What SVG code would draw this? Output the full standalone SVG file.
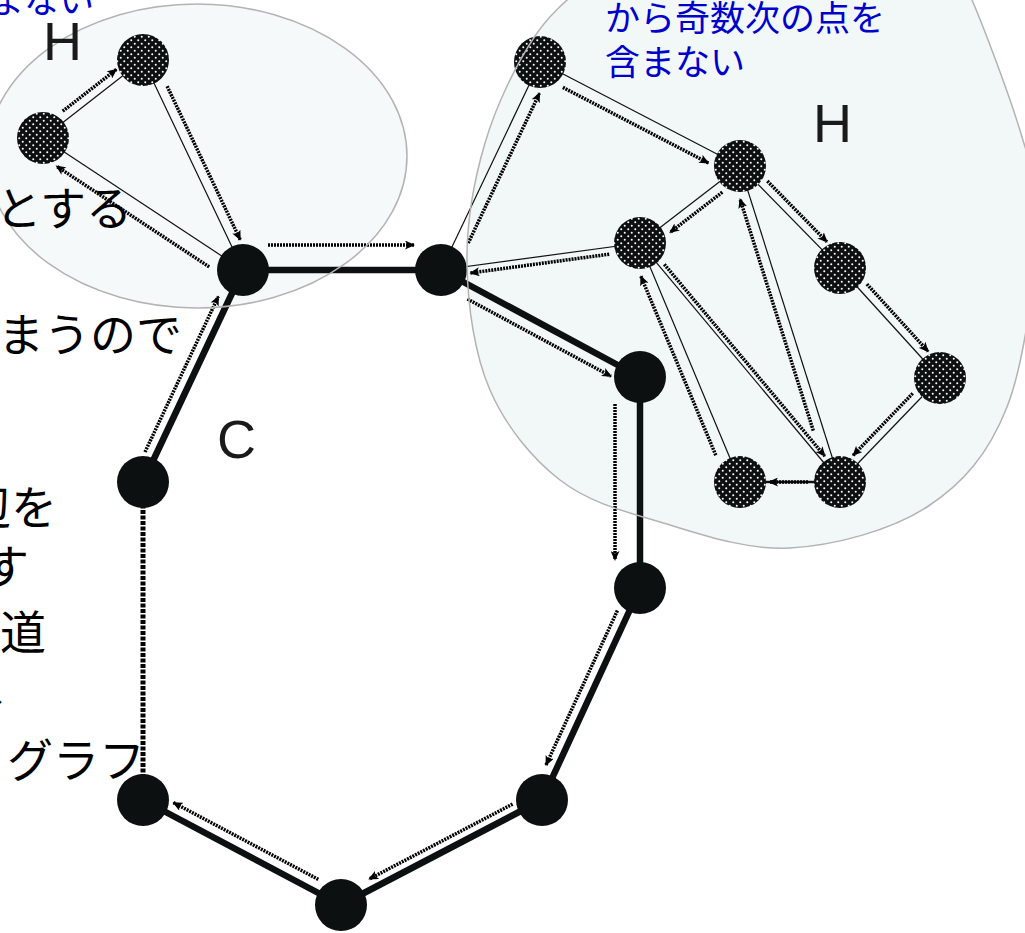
<svg xmlns="http://www.w3.org/2000/svg" width="1025" height="933" viewBox="0 0 1025 933">
<defs>
<pattern id="dots" patternUnits="userSpaceOnUse" width="7" height="7">
<rect width="7" height="7" fill="#0d1010"/>
<circle cx="1.75" cy="1.75" r="1" fill="#ffffff"/>
<circle cx="5.25" cy="5.25" r="1" fill="#ffffff"/>
</pattern>
<marker id="ah" markerUnits="userSpaceOnUse" markerWidth="11" markerHeight="9" refX="9" refY="4.5" orient="auto">
<path d="M0,0 L10,4.5 L0,9 L2.5,4.5 Z" fill="#000"/>
</marker>
<style>
.thin{stroke:#111;stroke-width:1.2;fill:none}
.thick{stroke:#0d1010;stroke-width:6.5;fill:none}
.dash{stroke:#000;stroke-width:5;stroke-dasharray:4 1.5;fill:none}
.tour{stroke:#000;stroke-width:3.5;stroke-dasharray:2 1;fill:none;marker-end:url(#ah)}
.cnode{fill:#0d1010}
.hnode{fill:url(#dots)}
.rfill{fill:#f2f7f7;stroke:none}
.lfill{fill:#f6f9fa;stroke:none}
.outline{fill:none;stroke:#b3b3b3;stroke-width:1.5}
.jp{font-family:"Noto Sans CJK JP","Noto Sans",sans-serif}
.blk{fill:#000;font-size:46px}
.blue{fill:#0000cc;font-size:35px}
.lat{font-family:"Liberation Sans",Arial,sans-serif;fill:#1a1a1a;font-size:54px}
</style>
</defs>
<rect width="1025" height="933" fill="#ffffff"/>
<g id="regions">
<ellipse class="lfill" cx="197" cy="156" rx="210" ry="152"/>
<path id="rightRegionFill" class="rfill" d="M600,-30 C578.3,-8 554.2,7.2 535,36 C515.8,64.8 496.3,104.8 485,143 C473.7,181.2 466.2,223.8 467,265 C467.8,306.2 474.5,354.2 490,390 C505.5,425.8 531.7,458 560,480 C588.3,502 621.7,510.7 660,522 C698.3,533.3 745.5,550.5 790,548 C834.5,545.5 890.8,530.5 927,507 C963.2,483.5 988.5,454 1007,407 C1025.5,360 1035.5,270 1038,225 C1040.5,180 1033,174.5 1022,137 C1011,99.5 984,27.8 972,0 C960,-27.8 957.3,-20 950,-30 L600,-30 Z"/>
</g>
<g id="connectors">
<line class="thin" x1="43" y1="138" x2="143" y2="60"/>
<line class="thin" x1="143" y1="60" x2="243" y2="270"/>
<line class="thin" x1="43" y1="138" x2="243" y2="270"/>
<line class="thin" x1="441" y1="270" x2="540" y2="62"/>
<line class="thin" x1="540" y1="62" x2="740" y2="166"/>
<line class="thin" x1="740" y1="166" x2="640" y2="243"/>
<line class="thin" x1="441" y1="270" x2="640" y2="243"/>
<line class="thin" x1="740" y1="166" x2="840" y2="268"/>
<line class="thin" x1="840" y1="268" x2="940" y2="378"/>
<line class="thin" x1="940" y1="378" x2="840" y2="482"/>
<line class="thin" x1="740" y1="482" x2="840" y2="482" style="stroke-width:2.5"/>
<line class="thin" x1="640" y1="243" x2="740" y2="482"/>
<line class="thin" x1="640" y1="243" x2="840" y2="482"/>
<line class="thin" x1="740" y1="166" x2="840" y2="482"/>
<line class="thick" x1="243" y1="270" x2="441" y2="270"/>
<line class="thick" x1="441" y1="270" x2="640" y2="377"/>
<line class="thick" x1="640" y1="377" x2="640" y2="588"/>
<line class="thick" x1="640" y1="588" x2="542" y2="800"/>
<line class="thick" x1="542" y1="800" x2="341" y2="905"/>
<line class="thick" x1="341" y1="905" x2="143" y2="800"/>
<line class="dash" x1="143" y1="800" x2="143" y2="482"/>
<line class="thick" x1="143" y1="482" x2="243" y2="270"/>
<line class="tour" x1="268" y1="245" x2="414" y2="245"/>
<line class="tour" x1="467.4" y1="299" x2="611" y2="376.3"/>
<line class="tour" x1="615" y1="404" x2="615" y2="560"/>
<line class="tour" x1="617.4" y1="610.6" x2="546" y2="765"/>
<line class="tour" x1="512.6" y1="804.1" x2="369.1" y2="879.1"/>
<line class="tour" x1="318.3" y1="879.4" x2="173.4" y2="802.6"/>
<line class="tour" x1="145" y1="452" x2="218.4" y2="296.4"/>
<line class="tour" x1="209.2" y1="266.9" x2="56.4" y2="166.1"/>
<line class="tour" x1="62.7" y1="111.2" x2="116.4" y2="69.4"/>
<line class="tour" x1="167.1" y1="86.2" x2="240.2" y2="239.7"/>
<line class="tour" x1="468.2" y1="243.1" x2="539.5" y2="93.2"/>
<line class="tour" x1="562.9" y1="87.4" x2="708.4" y2="163"/>
<line class="tour" x1="767.4" y1="181.1" x2="826.9" y2="241.8"/>
<line class="tour" x1="866.9" y1="284.1" x2="928.1" y2="351.4"/>
<line class="tour" x1="912.7" y1="393.4" x2="853.1" y2="455.4"/>
<line class="tour" x1="808" y1="482" x2="769" y2="482"/>
<line class="tour" x1="715.8" y1="455.2" x2="640.9" y2="276.3"/>
<line class="tour" x1="664.3" y1="264.3" x2="824.8" y2="456.1"/>
<line class="tour" x1="813.3" y1="430.6" x2="740" y2="199"/>
<line class="tour" x1="722.3" y1="192.2" x2="670" y2="232.5"/>
<line class="tour" x1="609.2" y1="254.2" x2="470.4" y2="273"/>
</g>
<g id="node-A"><circle class="cnode" cx="243" cy="270" r="26"/></g>
<g id="node-B"><circle class="cnode" cx="441" cy="270" r="26"/></g>
<g id="node-D"><circle class="cnode" cx="640" cy="377" r="26"/></g>
<g id="node-E"><circle class="cnode" cx="640" cy="588" r="26"/></g>
<g id="node-F"><circle class="cnode" cx="542" cy="800" r="26"/></g>
<g id="node-G"><circle class="cnode" cx="341" cy="905" r="26"/></g>
<g id="node-Hn"><circle class="cnode" cx="143" cy="800" r="26"/></g>
<g id="node-I"><circle class="cnode" cx="143" cy="482" r="26"/></g>
<g id="node-L1"><circle class="hnode" cx="143" cy="60" r="26"/></g>
<g id="node-L2"><circle class="hnode" cx="43" cy="138" r="26"/></g>
<g id="node-R1"><circle class="hnode" cx="540" cy="62" r="26"/></g>
<g id="node-R2"><circle class="hnode" cx="740" cy="166" r="26"/></g>
<g id="node-R3"><circle class="hnode" cx="640" cy="243" r="26"/></g>
<g id="node-R4"><circle class="hnode" cx="840" cy="268" r="26"/></g>
<g id="node-R5"><circle class="hnode" cx="940" cy="378" r="26"/></g>
<g id="node-R6"><circle class="hnode" cx="740" cy="482" r="26"/></g>
<g id="node-R7"><circle class="hnode" cx="840" cy="482" r="26"/></g>
<g id="region-outlines">
<ellipse class="outline" cx="197" cy="156" rx="210" ry="152"/>
<path class="outline" d="M600,-30 C578.3,-8 554.2,7.2 535,36 C515.8,64.8 496.3,104.8 485,143 C473.7,181.2 466.2,223.8 467,265 C467.8,306.2 474.5,354.2 490,390 C505.5,425.8 531.7,458 560,480 C588.3,502 621.7,510.7 660,522 C698.3,533.3 745.5,550.5 790,548 C834.5,545.5 890.8,530.5 927,507 C963.2,483.5 988.5,454 1007,407 C1025.5,360 1035.5,270 1038,225 C1040.5,180 1033,174.5 1022,137 C1011,99.5 984,27.8 972,0 C960,-27.8 957.3,-20 950,-30"/>
</g>
<g id="labels">
<text class="jp blue" x="94" y="13" text-anchor="end">まない</text>
<text class="jp blue" x="605" y="31">から奇数次の点を</text>
<text class="jp blue" x="605" y="75">含まない</text>
<text class="lat" x="43" y="60">H</text>
<text class="lat" x="813" y="142">H</text>
<text class="lat" x="217" y="458">C</text>
<text class="jp blk" x="132" y="225" text-anchor="end">とする</text>
<text class="jp blk" x="182" y="351" text-anchor="end">まうので</text>
<text class="jp blk" x="57" y="524" text-anchor="end">辺を</text>
<text class="jp blk" x="29" y="583" text-anchor="end">す</text>
<text class="jp blk" x="46" y="649" text-anchor="end">道</text>
<text class="jp blk" x="-14" y="702">、</text>
<text class="jp blk" x="145" y="777" text-anchor="end">グラフ</text>
</g>
</svg>
